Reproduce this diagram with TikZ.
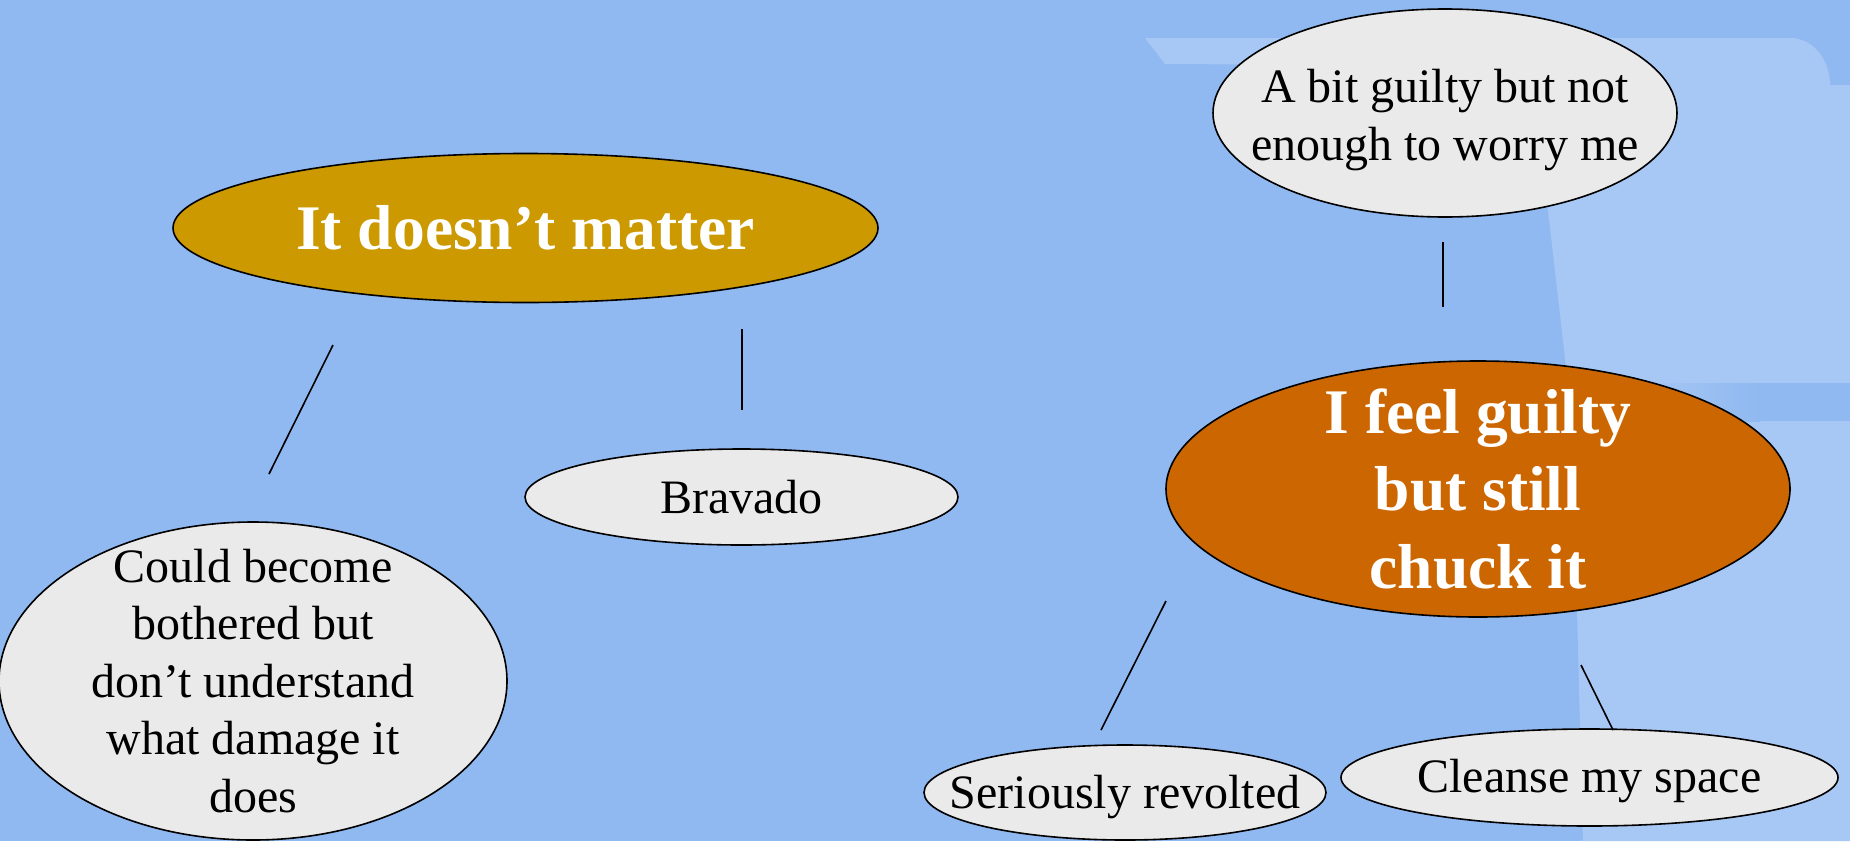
\documentclass[tikz,border=0pt]{standalone}
\usepackage{fontspec}
\setmainfont{Liberation Serif}
\usetikzlibrary{shapes.geometric}
\definecolor{bgbase}{RGB}{143,185,240}
\definecolor{bglight}{RGB}{167,199,244}
\definecolor{bubble}{RGB}{234,234,234}
\definecolor{gold}{RGB}{204,153,0}
\definecolor{rust}{RGB}{204,102,0}
\begin{document}
\begin{tikzpicture}[x=1pt,y=-1pt,
  bub/.style={ellipse, draw=black, line width=1.6pt, inner sep=0pt},
  reg/.style={font=\fontsize{48}{57.5}\selectfont, align=center, text=black, inner sep=0pt},
  big/.style={font=\fontsize{63.5}{77.5}\selectfont\bfseries, align=center, text=white, inner sep=0pt},
  link/.style={line width=1.6pt, draw=black}]
\useasboundingbox (0,0) rectangle (1850,841);
\clip (0,0) rectangle (1850,841);
% background
\fill[bgbase] (0,0) rectangle (1850,841);
\fill[bglight] (1145,38) -- (1790,38) to[out=0,in=90] (1830,85) -- (1850,85)
  -- (1850,841) -- (1583,841) -- (1572,420) -- (1548,210) -- (1525,66) -- (1165,64) -- cycle;
\shade[left color=bglight, right color=bgbase] (1640,383) rectangle (1760,421);
\fill[bgbase] (1759,383) rectangle (1850,421);

% nodes
\node[bub, fill=gold, minimum width=705pt, minimum height=149pt,
  label={[big]center:It doesn’t matter}] (doesnt) at (525.5,228) {};
\node[bub, fill=bubble, minimum width=464pt, minimum height=208pt,
  label={[reg,yshift=-7pt]center:{A bit guilty but not\\enough to worry me}}] (bit) at (1445,113) {};
\node[bub, fill=rust, minimum width=624pt, minimum height=256pt,
  label={[big]center:{I feel guilty\\but still\\chuck it}}] (guilty) at (1478,489) {};
\node[bub, fill=bubble, minimum width=433pt, minimum height=96pt,
  label={[reg]center:Bravado}] (bravado) at (741.5,497) {};
\node[bub, fill=bubble, minimum width=508pt, minimum height=318pt,
  label={[reg]center:{Could become\\bothered but\\don’t understand\\what damage it\\does}}] (could) at (253,681) {};
\node[bub, fill=bubble, minimum width=402pt, minimum height=95pt,
  label={[reg,yshift=-5pt]center:Seriously revolted}] (revolted) at (1125,792.5) {};
\node[bub, fill=bubble, minimum width=497pt, minimum height=97pt,
  label={[reg,yshift=-4pt]center:Cleanse my space}] (cleanse) at (1589.5,777.5) {};

% connectors
\coordinate (d1) at (333,345); \coordinate (c1) at (269,474);
\coordinate (d2) at (742,329); \coordinate (b2) at (742,410);
\coordinate (t1) at (1443,242); \coordinate (t2) at (1443,307);
\coordinate (g1) at (1166,601); \coordinate (s1) at (1101,730);
\coordinate (g2) at (1581,665); \coordinate (s2) at (1613,730);
\draw[link] (d1) -- (c1);
\draw[link] (d2) -- (b2);
\draw[link] (t1) -- (t2);
\draw[link] (g1) -- (s1);
\draw[link] (g2) -- (s2);
\end{tikzpicture}
\end{document}
